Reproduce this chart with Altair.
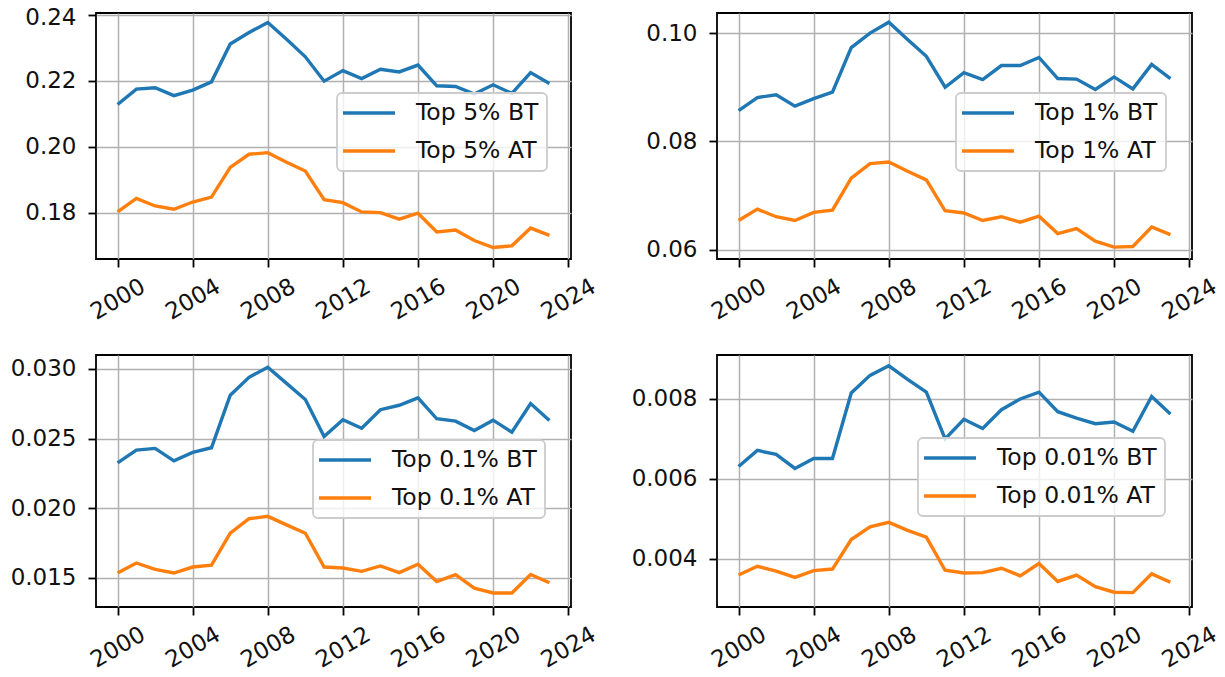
import altair as alt
import pandas as pd

years = list(range(2000, 2024))

top5_bt = [0.2128, 0.2175, 0.2179, 0.2155, 0.2172, 0.2197, 0.2312, 0.2347, 0.2377, 0.2326,
           0.2273, 0.2199, 0.2231, 0.2207, 0.2235, 0.2227, 0.2248, 0.2185, 0.2183, 0.2160,
           0.2188, 0.2162, 0.2225, 0.2192]
top5_at = [0.1802, 0.1843, 0.1820, 0.1810, 0.1832, 0.1847, 0.1937, 0.1977, 0.1982, 0.1953,
           0.1926, 0.1839, 0.1830, 0.1802, 0.1800, 0.1780, 0.1798, 0.1741, 0.1747, 0.1715,
           0.1694, 0.1699, 0.1753, 0.1731]
top1_bt = [0.0857, 0.0881, 0.0886, 0.0865, 0.0879, 0.0891, 0.0973, 0.1000, 0.1020, 0.0988,
           0.0957, 0.0900, 0.0927, 0.0914, 0.0940, 0.0940, 0.0955, 0.0916, 0.0915, 0.0896,
           0.0919, 0.0897, 0.0942, 0.0916]
top1_at = [0.0654, 0.0675, 0.0661, 0.0654, 0.0669, 0.0673, 0.0732, 0.0759, 0.0762, 0.0745,
           0.0729, 0.0672, 0.0668, 0.0654, 0.0661, 0.0651, 0.0662, 0.0630, 0.0639, 0.0616,
           0.0605, 0.0606, 0.0642, 0.0628]
top01_bt = [0.02325, 0.02417, 0.02429, 0.02340, 0.02400, 0.02434, 0.02811, 0.02940, 0.03012, 0.02896,
            0.02780, 0.02514, 0.02635, 0.02574, 0.02707, 0.02739, 0.02792, 0.02642, 0.02625, 0.02557,
            0.02632, 0.02545, 0.02751, 0.02630]
top01_at = [0.01534, 0.01606, 0.01560, 0.01534, 0.01577, 0.01590, 0.01820, 0.01924, 0.01941, 0.01880,
            0.01820, 0.01577, 0.01570, 0.01546, 0.01585, 0.01537, 0.01597, 0.01473, 0.01522, 0.01425,
            0.01391, 0.01391, 0.01524, 0.01464]
top001_bt = [0.00631, 0.00671, 0.00661, 0.00626, 0.00651, 0.00651, 0.00815, 0.00859, 0.00883, 0.00849,
             0.00817, 0.00700, 0.00749, 0.00726, 0.00773, 0.00800, 0.00817, 0.00768, 0.00752, 0.00738,
             0.00742, 0.00719, 0.00806, 0.00762]
top001_at = [0.00359, 0.00381, 0.00369, 0.00353, 0.00370, 0.00374, 0.00448, 0.00480, 0.00491, 0.00471,
             0.00454, 0.00371, 0.00364, 0.00365, 0.00376, 0.00357, 0.00388, 0.00343, 0.00359, 0.00330,
             0.00316, 0.00315, 0.00362, 0.00341]

x_ticks = [2000, 2004, 2008, 2012, 2016, 2020, 2024]
BLUE = "#1f77b4"
ORANGE = "#ff7f0e"
FONT = "DejaVu Sans"


def panel(label, bt, at, ydomain, yticks, yfmt, lx, ly, h, top_label_shift=None):
    names = [f"Top {label} BT", f"Top {label} AT"]
    df = pd.DataFrame({
        "year": years * 2,
        "value": bt + at,
        "series": [names[0]] * len(years) + [names[1]] * len(years),
    })
    yaxis_kw = dict(values=yticks, format=yfmt, title=None,
                    labelBaseline="middle", labelPadding=12)
    if top_label_shift is not None:
        yaxis_kw["labelOffset"] = {"condition": {"test": f"datum.value > {top_label_shift}", "value": 3},
                                   "value": 0}
    return alt.Chart(df).mark_line(strokeWidth=3.4).encode(
        x=alt.X("year:Q",
                scale=alt.Scale(domain=[1998.85, 2024.15], nice=False, zero=False),
                axis=alt.Axis(values=x_ticks, format="d", title=None, labelAngle=330,
                              labelAlign="center", labelBaseline="middle", labelPadding=32)),
        y=alt.Y("value:Q",
                scale=alt.Scale(domain=ydomain, nice=False, zero=False),
                axis=alt.Axis(**yaxis_kw)),
        color=alt.Color("series:N",
                        scale=alt.Scale(domain=names, range=[BLUE, ORANGE]),
                        sort=names,
                        legend=alt.Legend(title=None, orient="none", legendX=lx, legendY=ly,
                                          labelExpr="datum.label + '\u00a0\u00a0'")),
    ).properties(width=475, height=h)


p1 = panel("5%", top5_bt, top5_at, [0.1659, 0.2406], [0.18, 0.20, 0.22, 0.24], ".2f", 241, 80, 246,
           top_label_shift=0.235)
p2 = panel("1%", top1_bt, top1_at, [0.0583, 0.1037], [0.06, 0.08, 0.10], ".2f", 239, 80, 246)
p3 = panel("0.1%", top01_bt, top01_at, [0.0129, 0.0310], [0.015, 0.020, 0.025, 0.030], ".3f", 217, 85, 252)
p4 = panel("0.01%", top001_bt, top001_at, [0.00279, 0.0091], [0.004, 0.006, 0.008], ".3f", 201, 83, 252)

chart = alt.concat(
    p1, p2, p3, p4, columns=2, spacing={"row": 96, "column": 146}
).resolve_scale(
    x="independent", y="independent", color="independent"
).properties(
    autosize=alt.AutoSizeParams(type="none"),
    padding={"left": 88, "top": 5, "right": 1121, "bottom": 656},
    bounds="flush",
    align="each",
).configure_view(
    stroke="black", strokeWidth=1.8
).configure_axis(
    domain=False,
    grid=True,
    gridColor="#b0b0b0",
    gridWidth=1.5,
    ticks=True,
    tickColor="black",
    tickWidth=1.8,
    tickSize=8,
    labelFont=FONT,
    labelFontSize=23,
    labelColor="#111111",
).configure_legend(
    symbolType="M-2.6,0H2.6",
    symbolSize=400,
    symbolStrokeWidth=3.4,
    symbolOffset=12,
    labelOffset=35,
    labelFont=FONT,
    labelFontSize=23.5,
    labelColor="#111111",
    labelLimit=400,
    padding=8,
    rowPadding=14,
    fillColor="rgba(255,255,255,0.8)",
    strokeColor="#cccccc",
    strokeWidth=1.8,
    cornerRadius=5,
)

chart.save("out.html", embed_options={"renderer": "svg", "actions": False})
